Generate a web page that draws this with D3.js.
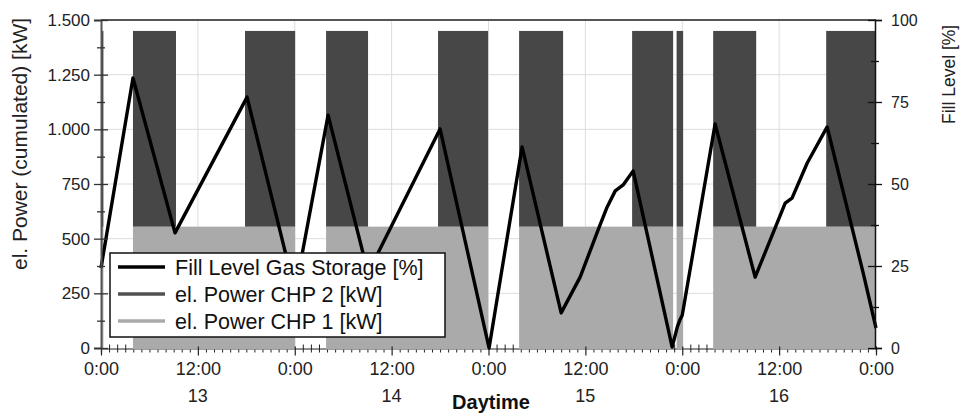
<!DOCTYPE html>
<html>
<head>
<meta charset="utf-8">
<script src="https://cdn.jsdelivr.net/npm/d3@7"></script>
<style>
  body { margin: 0; background: #fff; }
  svg { font-family: "Liberation Sans", Arial, sans-serif; }
</style>
</head>
<body>
<div id="plot"></div>
<script>
// Hours since 0:00 on day 13 where each CHP runs
var chp1On = [[0, 0.3], [3.96, 24.05], [27.88, 47.95], [51.79, 70.87], [71.3, 72.11], [75.83, 96]];
var chp2On = [[0, 0.3], [3.96, 9.29], [17.84, 24.05], [27.88, 33.08], [41.75, 47.95], [51.79, 57.24],
              [65.79, 70.87], [71.3, 72.11], [75.83, 81.16], [89.83, 96]];
var chp1Power = 555;        // kW
var cumulatedPower = 1450;  // kW, CHP 1 + CHP 2

// Fill level of the gas storage [hour, %]
var fillLevel = [
  [0, 24.4], [3.96, 82.3], [9.17, 35.1], [18.09, 76.5], [24.04, 17.1], [28.13, 71.0],
  [33.08, 22.9], [42.0, 66.8], [48.07, 0], [52.16, 61.3], [57.0, 10.7], [59.35, 21.6],
  [61.58, 36.0], [62.7, 43.0], [63.7, 47.9], [64.68, 49.7], [65.92, 54.0], [70.75, 0.3],
  [71.4, 6.5], [71.7, 8.5], [72.0, 10.0], [76.07, 68.3], [81.03, 21.6], [84.75, 44.2],
  [85.6, 45.7], [87.48, 56.4], [89.95, 67.4], [94.41, 22.9], [96, 6.1]
];

var leftTicks = [0, 250, 500, 750, 1000, 1250, 1500];
var leftTickLabels = ["0", "250", "500", "750", "1.000", "1.250", "1.500"];
var rightTicks = [0, 25, 50, 75, 100];
var xTicks = [0, 12, 24, 36, 48, 60, 72, 84, 96];
var xTickLabels = ["0:00", "12:00", "0:00", "12:00", "0:00", "12:00", "0:00", "12:00", "0:00"];
var dayTicks = [12, 36, 60, 84];
var dayLabels = ["13", "14", "15", "16"];
var legendLabels = ["Fill Level Gas Storage [%]", "el. Power CHP 2 [kW]", "el. Power CHP 1 [kW]"];

function init() {
  var w = 960;
  var h = 414;
  var left = 101, right = 876, top = 20, bottom = 348;

  var svg = d3.select("#plot")
    .append("svg")
    .attr("width", w)
    .attr("height", h);

  var x = d3.scaleLinear().domain([0, 96]).range([left, right]);
  var yPow = d3.scaleLinear().domain([0, 1500]).range([bottom, top]);
  var yFill = d3.scaleLinear().domain([0, 100]).range([bottom, top]);

  // grid
  var grid = svg.append("g");
  grid.selectAll("line.h")
    .data(leftTicks.slice(1, -1))
    .enter().append("line")
    .attr("x1", left).attr("x2", right)
    .attr("y1", function(d) { return yPow(d); })
    .attr("y2", function(d) { return yPow(d); })
    .attr("stroke", "#dcdcdc");
  grid.selectAll("line.v")
    .data(xTicks.slice(1, -1))
    .enter().append("line")
    .attr("y1", top).attr("y2", bottom)
    .attr("x1", function(d) { return x(d); })
    .attr("x2", function(d) { return x(d); })
    .attr("stroke", "#dcdcdc");

  // x axis (drawn under the fills, like the original)
  var minorHours = d3.range(0, 97).filter(function(d) { return d % 12 !== 0; });
  var xMinor = svg.append("g")
    .attr("transform", "translate(0," + (bottom + 0.5) + ")")
    .call(d3.axisBottom(x).tickValues(minorHours).tickSize(4).tickFormat(""));
  xMinor.selectAll(".tick line").attr("y1", -4).attr("stroke", "#222");
  xMinor.select(".domain").attr("stroke", "#222").attr("stroke-width", 1.2);

  // power areas (cumulated)
  svg.append("g").selectAll("rect")
    .data(chp1On)
    .enter().append("rect")
    .attr("x", function(d) { return x(d[0]); })
    .attr("width", function(d) { return x(d[1]) - x(d[0]); })
    .attr("y", yPow(chp1Power))
    .attr("height", yPow(0) - yPow(chp1Power) + 1.5)
    .attr("fill", "#aaaaaa");

  svg.append("g").selectAll("rect")
    .data(chp2On)
    .enter().append("rect")
    .attr("x", function(d) { return x(d[0]); })
    .attr("width", function(d) { return x(d[1]) - x(d[0]); })
    .attr("y", yPow(cumulatedPower))
    .attr("height", yPow(chp1Power) - yPow(cumulatedPower))
    .attr("fill", "#474747");

  var xMajor = svg.append("g")
    .attr("transform", "translate(0," + (bottom + 0.5) + ")")
    .call(d3.axisBottom(x).tickValues(xTicks).tickSize(7)
      .tickFormat(function(d, i) { return xTickLabels[i]; }));
  xMajor.select(".domain").remove();
  xMajor.selectAll(".tick line").attr("y1", -2).attr("stroke", "#222").attr("stroke-width", 1.2);
  xMajor.selectAll(".tick text")
    .attr("y", 14)
    .attr("font-size", 18)
    .attr("font-family", "Liberation Sans, Arial, sans-serif")
    .attr("fill", "#222");

  svg.append("g").selectAll("text")
    .data(dayTicks)
    .enter().append("text")
    .attr("x", function(d) { return x(d); })
    .attr("y", 402)
    .attr("text-anchor", "middle")
    .attr("font-size", 18)
    .attr("fill", "#222")
    .text(function(d, i) { return dayLabels[i]; });

  // fill level line
  var line = d3.line()
    .x(function(d) { return x(d[0]); })
    .y(function(d) { return yFill(d[1]); });
  svg.append("path")
    .datum(fillLevel)
    .attr("d", line)
    .attr("fill", "none")
    .attr("stroke", "#000")
    .attr("stroke-width", 3.4)
    .attr("stroke-linejoin", "round");

  // frame top
  svg.append("line")
    .attr("x1", left).attr("x2", right)
    .attr("y1", top).attr("y2", top)
    .attr("stroke", "#555").attr("stroke-width", 2);

  // left axis
  var yAxisL = svg.append("g")
    .attr("transform", "translate(" + left + ",0)")
    .call(d3.axisLeft(yPow).tickValues(leftTicks).tickSize(7)
      .tickFormat(function(d, i) { return leftTickLabels[i]; }));
  yAxisL.select(".domain").attr("stroke", "#555").attr("stroke-width", 2);
  yAxisL.selectAll(".tick line").attr("x1", 7).attr("stroke", "#333").attr("stroke-width", 1.3);
  yAxisL.selectAll(".tick text")
    .attr("x", -11)
    .attr("font-size", 17)
    .attr("font-family", "Liberation Sans, Arial, sans-serif")
    .attr("fill", "#222");
  var yMinorL = svg.append("g")
    .attr("transform", "translate(" + left + ",0)")
    .call(d3.axisLeft(yPow).tickValues(d3.range(125, 1500, 250)).tickSize(4).tickFormat(""));
  yMinorL.select(".domain").remove();
  yMinorL.selectAll(".tick line").attr("x1", 4).attr("stroke", "#333").attr("stroke-width", 1.3);

  // right axis
  var yAxisR = svg.append("g")
    .attr("transform", "translate(" + (right - 1) + ",0)")
    .call(d3.axisRight(yFill).tickValues(rightTicks).tickSize(7));
  yAxisR.select(".domain").attr("stroke", "#111").attr("stroke-width", 1.5);
  yAxisR.selectAll(".tick line").attr("x1", -7).attr("stroke", "#111").attr("stroke-width", 1.3);
  yAxisR.selectAll(".tick text")
    .attr("x", 16)
    .attr("font-size", 16)
    .attr("font-family", "Liberation Sans, Arial, sans-serif")
    .attr("fill", "#222");
  var yMinorR = svg.append("g")
    .attr("transform", "translate(" + (right - 1) + ",0)")
    .call(d3.axisRight(yFill).tickValues(d3.range(12.5, 100, 25)).tickSize(4).tickFormat(""));
  yMinorR.select(".domain").remove();
  yMinorR.selectAll(".tick line").attr("x1", -4).attr("stroke", "#111").attr("stroke-width", 1.3);

  // axis titles
  svg.append("text")
    .attr("transform", "translate(27,270) rotate(-90)")
    .attr("font-size", 21)
    .attr("fill", "#222")
    .text("el. Power (cumulated) [kW]");
  svg.append("text")
    .attr("transform", "translate(955,124) rotate(-90)")
    .attr("font-size", 17.5)
    .attr("fill", "#222")
    .text("Fill Level [%]");
  svg.append("text")
    .attr("x", 491)
    .attr("y", 409)
    .attr("text-anchor", "middle")
    .attr("font-size", 20)
    .attr("font-weight", "bold")
    .attr("fill", "#111")
    .text("Daytime");

  // legend
  var legend = svg.append("g");
  legend.append("rect")
    .attr("x", 110).attr("y", 253)
    .attr("width", 335).attr("height", 84)
    .attr("fill", "#fff")
    .attr("stroke", "#111").attr("stroke-width", 1.5);
  var legendColors = ["#000", "#505050", "#aaaaaa"];
  var rows = legend.selectAll("g.row")
    .data(legendLabels)
    .enter().append("g")
    .attr("transform", function(d, i) { return "translate(118," + (267 + i * 27) + ")"; });
  rows.append("line")
    .attr("x1", 0).attr("x2", 47)
    .attr("stroke", function(d, i) { return legendColors[i]; })
    .attr("stroke-width", 3.5);
  rows.append("text")
    .attr("x", 57)
    .attr("y", 7.5)
    .attr("font-size", 21.5)
    .attr("fill", "#111")
    .text(function(d) { return d; });
}

window.onload = init;
</script>
</body>
</html>
